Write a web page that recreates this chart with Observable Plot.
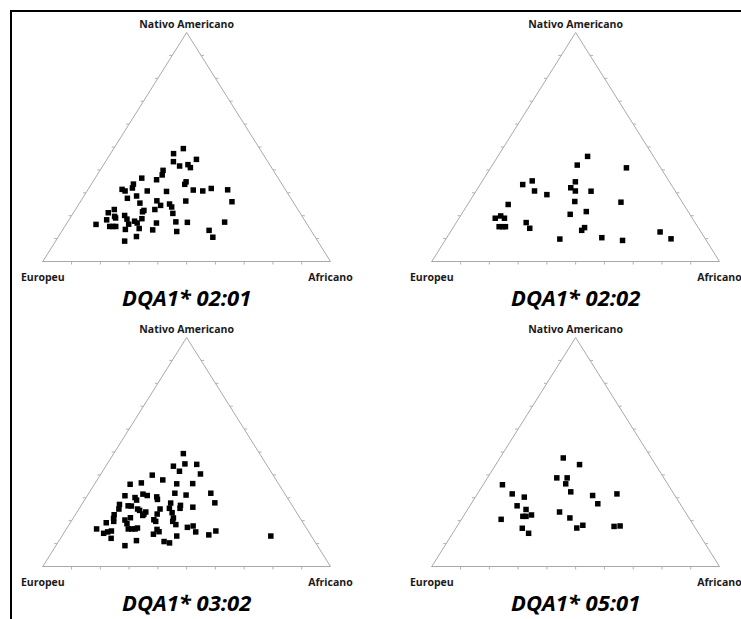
<!DOCTYPE html>
<html><head><meta charset="utf-8">
<script src="https://cdn.jsdelivr.net/npm/d3@7"></script>
<script src="https://cdn.jsdelivr.net/npm/@observablehq/plot@0.6"></script>
<style>
html,body{margin:0;padding:0;background:#fff;overflow:hidden;}
#wrap{position:relative;width:741px;height:619px;overflow:hidden;background:#fff;}
.panel{position:absolute;width:370px;}
.panel svg{max-width:none !important;}
.rule{position:absolute;background:#000;z-index:5;}
</style></head><body>
<div id="wrap"></div>
<script>
// Titles and vertex labels
const panelTitles = ["DQA1* 02:01", "DQA1* 02:02", "DQA1* 03:02", "DQA1* 05:01"];
const topLabel = "Nativo Americano";
const leftLabel = "Europeu";
const rightLabel = "Africano";
const tickValues = [10, 20, 30, 40, 50, 60, 70, 80, 90];

// Compositions in % : [Europeu, Africano, Nativo Americano]
const dqa0201 = [
  [26.5,24.2,49.3],[31.0,21.9,47.1],[24.3,31.1,44.6],[32.8,23.6,43.6],[31.6,26.7,41.7],
  [28.4,29.3,42.3],[28.2,30.8,41.0],[38.3,21.9,39.8],[39.6,22.6,37.8],[47.4,16.2,36.4],
  [42.6,21.7,35.7],[32.8,32.4,34.8],[33.8,32.5,33.7],[51.6,14.6,33.8],[52.8,15.1,32.1],
  [56.7,11.8,31.5],[56.0,13.2,30.8],[48.3,20.9,30.8],[41.7,27.7,30.6],[32.1,36.7,31.2],
  [29.0,40.2,30.8],[25.5,42.6,31.9],[20.1,48.6,31.3],[56.8,15.6,27.6],[53.1,18.3,28.6],
  [37.1,36.5,26.4],[21.2,52.7,26.1],[53.5,21.0,25.5],[47.1,26.4,26.5],[43.4,31.5,25.1],
  [43.3,32.9,23.8],[46.8,28.7,24.5],[53.7,24.0,22.3],[54.5,23.8,21.7],[49.7,27.6,22.7],
  [44.3,34.7,21.0],[63.8,13.5,22.7],[66.6,12.1,21.3],[65.2,15.1,19.7],[61.5,18.4,20.1],
  [68.7,13.1,18.2],[65.2,15.8,19.0],[61.5,20.0,18.5],[59.3,23.1,17.6],[56.2,25.1,18.7],
  [58.8,24.4,16.8],[52.1,31.1,16.8],[45.1,37.6,17.3],[41.2,41.7,17.1],[28.2,54.6,17.2],
  [73.4,10.4,16.2],[69.1,15.6,15.3],[68.0,16.7,15.3],[67.0,17.7,15.3],[62.0,21.7,16.3],
  [59.3,26.3,14.4],[64.3,21.7,14.0],[54.9,31.3,13.8],[46.9,40.0,13.1],[35.4,51.0,13.6],
  [62.0,27.1,10.9],[35.6,53.8,10.6],[67.1,24.0,8.9]
];
const dqa0202 = [
  [22.9,31.2,45.9],[28.4,29.5,42.1],[11.9,47.2,40.9],[51.6,14.8,33.6],[47.5,17.3,35.2],
  [48.9,20.3,30.8],[45.4,25.4,29.2],[32.7,32.5,34.8],[35.6,32.2,32.2],[34.7,34.5,30.8],
  [29.3,40.0,30.7],[37.2,36.6,26.2],[21.3,52.8,25.9],[61.0,14.1,24.9],[68.5,12.6,18.9],
  [66.1,14.0,19.9],[65.3,15.8,18.9],[69.0,15.8,15.2],[67.8,17.0,15.2],[66.8,18.0,15.2],
  [58.7,24.3,17.0],[58.7,26.8,14.5],[41.6,37.8,20.6],[35.4,42.8,21.8],[39.5,45.7,14.8],
  [41.1,45.3,13.6],[50.6,39.6,9.8],[35.7,53.9,10.4],[29.1,61.7,9.2],[14.2,72.9,12.9],
  [11.9,78.2,9.9]
];
const dqa0302 = [
  [26.5,24.2,49.3],[32.7,23.5,43.8],[28.2,27.0,44.8],[24.2,31.2,44.6],[31.7,26.7,41.6],
  [25.0,34.6,40.4],[42.0,18.1,39.9],[39.4,22.8,37.8],[51.7,12.4,35.9],[47.5,16.0,36.5],
  [35.4,28.5,36.1],[29.8,34.0,36.2],[56.0,13.1,30.9],[52.9,17.0,30.1],[52.9,18.1,29.0],
  [49.4,19.0,31.6],[48.2,20.8,31.0],[45.2,24.4,30.4],[45.5,25.2,29.3],[38.1,29.9,32.0],
  [34.6,34.2,31.2],[25.6,42.4,32.0],[26.3,45.9,27.8],[59.8,13.1,27.1],[61.0,13.9,25.1],
  [57.1,16.4,26.5],[56.0,17.6,26.4],[54.5,20.4,25.1],[54.1,21.4,24.5],[53.4,23.7,22.9],
  [52.3,23.9,23.8],[54.1,23.6,22.3],[48.8,28.3,22.9],[46.7,28.2,25.1],[41.7,30.6,27.7],
  [43.3,31.3,25.4],[43.3,33.2,23.5],[38.8,34.5,26.7],[39.6,35.0,25.4],[34.9,39.2,25.9],
  [63.9,13.5,22.6],[64.9,14.1,21.0],[65.5,14.8,19.7],[68.4,12.5,19.1],[61.3,18.4,20.3],
  [58.9,19.8,21.3],[61.4,19.9,18.7],[51.2,28.4,20.4],[50.9,29.4,19.7],[45.0,35.3,19.7],
  [44.0,34.8,21.2],[44.6,37.1,18.3],[41.2,41.7,17.1],[38.9,43.4,17.7],[39.3,45.6,15.1],
  [32.1,52.4,15.5],[35.4,50.8,13.8],[73.1,10.5,16.4],[71.6,13.9,14.5],[69.9,15.0,15.1],
  [68.4,16.1,15.5],[70.1,17.6,12.3],[62.1,21.5,16.4],[60.9,22.7,16.4],[59.7,23.9,16.4],
  [58.7,24.5,16.8],[52.2,31.6,16.2],[52.0,32.8,15.2],[54.5,31.4,14.1],[61.8,26.9,11.3],
  [66.9,24.0,9.1],[52.4,36.7,10.9],[50.8,38.9,10.3],[46.8,39.9,13.3],[14.1,72.6,13.3]
];
const dqa0501 = [
  [30.6,22.0,47.4],[26.4,29.1,44.5],[37.2,24.1,38.7],[33.6,27.7,38.7],[35.4,28.5,36.1],
  [35.4,32.0,32.6],[57.6,6.7,35.7],[56.2,12.1,31.7],[52.7,17.0,30.3],[28.6,40.4,31.0],
  [19.8,48.5,31.7],[28.6,44.0,27.4],[57.1,16.4,26.5],[54.8,20.3,24.9],[43.7,32.5,23.8],
  [54.1,23.4,22.5],[57.4,20.7,21.9],[56.3,21.8,21.9],[65.6,13.8,20.6],[41.4,37.4,21.2],
  [60.2,23.1,16.7],[59.1,26.4,14.5],[41.2,42.0,16.8],[38.5,43.5,18.0],[27.9,54.6,17.5],
  [25.7,56.6,17.7]
];

const panels = [
  {data: dqa0201, title: panelTitles[0], left: 0,     top: 0},
  {data: dqa0202, title: panelTitles[1], left: 388.7, top: 0},
  {data: dqa0302, title: panelTitles[2], left: 0,     top: 305},
  {data: dqa0501, title: panelTitles[3], left: 388.7, top: 305}
];

// ternary -> cartesian (Europeu bottom-left, Africano bottom-right, Nativo top)
const tx = d => (d[1] + d[2] / 2) / 100;
const ty = d => d[2] / 100;

const W = 370, H = 305;
const mL = 42.3, mR = 40, mT = 32, mB = 44;
const pxX = 1 / (W - mL - mR), pxY = 1 / (H - mT - mB);
const tickLen = 3;

const vertices = [[100,0,0],[0,100,0],[0,0,100],[100,0,0]];
const ticks = [];
for (const t of tickValues) {
  const b = [100 - t, t, 0];          // base (Europeu–Africano)
  ticks.push({x1: tx(b), y1: ty(b), x2: tx(b), y2: ty(b) - tickLen * pxY});
  const l = [100 - t, 0, t];          // left edge (Europeu–Nativo)
  ticks.push({x1: tx(l), y1: ty(l), x2: tx(l) - tickLen * pxX, y2: ty(l)});
  const r = [0, 100 - t, t];          // right edge (Africano–Nativo)
  ticks.push({x1: tx(r), y1: ty(r), x2: tx(r) + tickLen * pxX, y2: ty(r)});
}
const labels = [
  {c: [0,0,100], text: topLabel},
  {c: [100,0,0], text: leftLabel},
  {c: [0,100,0], text: rightLabel}
];

const wrap = document.getElementById("wrap");
for (const p of panels) {
  const svg = Plot.plot({
    width: W, height: H,
    marginLeft: mL, marginRight: mR, marginTop: mT, marginBottom: mB,
    x: {domain: [0, 1], axis: null},
    y: {domain: [0, 1], axis: null},
    style: {background: "transparent", overflow: "visible", maxWidth: "none"},
    marks: [
      Plot.line(vertices, {x: tx, y: ty, stroke: "#a9a9a9", strokeWidth: 1}),
      Plot.link(ticks, {x1: "x1", y1: "y1", x2: "x2", y2: "y2", stroke: "#b0b0b0", strokeWidth: 1}),
      Plot.dot(p.data, {x: tx, y: ty, symbol: "square", r: 3.1, fill: "#000", stroke: null}),
      Plot.text(labels.slice(0, 1), {x: d => tx(d.c), y: d => ty(d.c), text: "text", dy: -8,
        fontFamily: "Open Sans", fontWeight: "bold", fontSize: 10.5, fill: "#1a1a1a"}),
      Plot.text(labels.slice(1), {x: d => tx(d.c), y: d => ty(d.c), text: "text", dy: 16.5,
        fontFamily: "Open Sans", fontWeight: "bold", fontSize: 10.5, fill: "#1a1a1a"}),
      Plot.text([p.title], {x: 0.5, y: 0, text: d => d, dy: 37,
        fontFamily: "Open Sans", fontWeight: "bold", fontStyle: "italic", fontSize: 22, fill: "#000"})
    ]
  });
  const div = document.createElement("div");
  div.className = "panel";
  div.style.left = p.left + "px";
  div.style.top = p.top + "px";
  div.appendChild(svg);
  wrap.appendChild(div);
}
// figure frame lines (top and left)
const topRule = document.createElement("div");
topRule.className = "rule";
Object.assign(topRule.style, {left: "10px", top: "10px", width: "731px", height: "2px"});
const leftRule = document.createElement("div");
leftRule.className = "rule";
Object.assign(leftRule.style, {left: "10px", top: "10px", width: "2px", height: "609px"});
wrap.appendChild(topRule);
wrap.appendChild(leftRule);
</script>
</body></html>
